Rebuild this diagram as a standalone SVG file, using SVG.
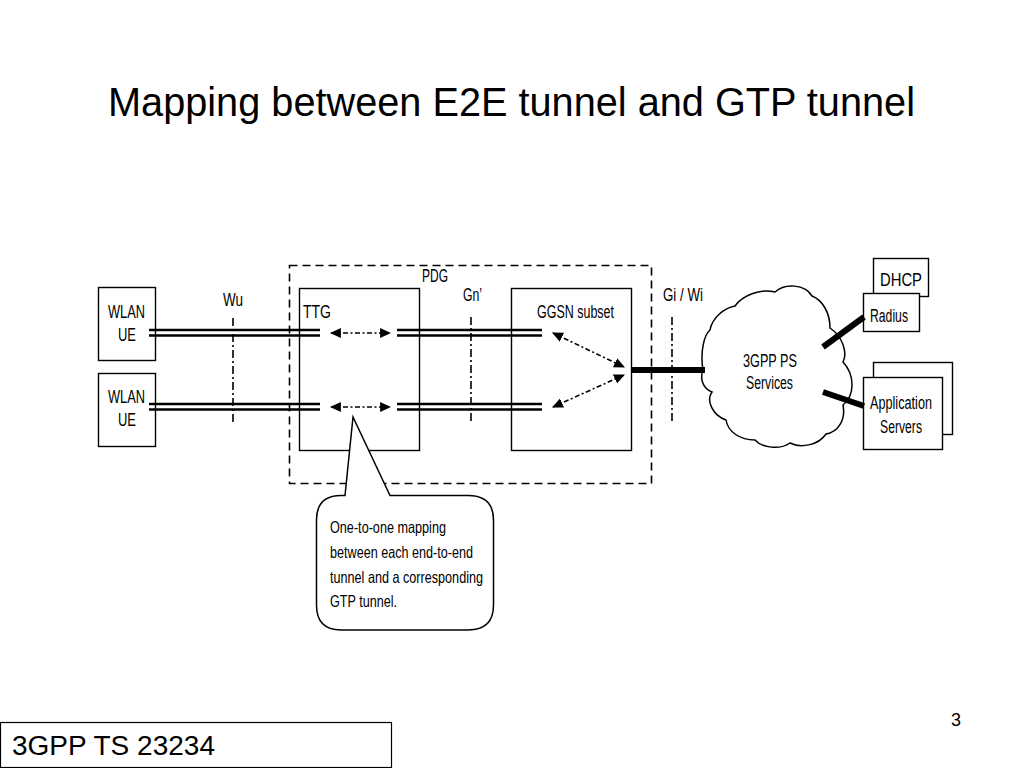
<svg xmlns="http://www.w3.org/2000/svg" width="1024" height="768" viewBox="0 0 1024 768">
<defs>
<style>
.t{font-family:"Liberation Sans",Arial,sans-serif;fill:#000}
.s{font-size:17.5px}
.c{font-size:16.5px}
.box{fill:#fff;stroke:#000;stroke-width:1.4}
.dl{stroke:#000;stroke-width:2.6;fill:none}
.ref{stroke:#000;stroke-width:1.6;stroke-dasharray:8 3 2 3;fill:none}
.arr{stroke:#000;stroke-width:1.6;stroke-dasharray:5 2.5 2 2.5;fill:none;marker-start:url(#ah);marker-end:url(#ah)}
.thick{stroke:#000;stroke-width:6;fill:none}
</style>
<marker id="ah" viewBox="0 0 10 10" refX="9" refY="5" markerWidth="11" markerHeight="11" markerUnits="userSpaceOnUse" orient="auto-start-reverse">
<path d="M0,0.5 L10,5 L0,9.5 Z" fill="#000"/>
</marker>
</defs>
<rect width="1024" height="768" fill="#fff"/>

<text class="t" x="108" y="116" font-size="40" textLength="807" lengthAdjust="spacingAndGlyphs">Mapping between E2E tunnel and GTP tunnel</text>

<g id="pdg">
<rect x="289.5" y="265.5" width="362" height="218" fill="none" stroke="#000" stroke-width="1.6" stroke-dasharray="8 5"/>
<text class="t s" x="422" y="282" textLength="26" lengthAdjust="spacingAndGlyphs">PDG</text>
</g>

<g id="wlan-ue-1">
<rect class="box" x="98.5" y="287.5" width="57" height="73"/>
<text class="t s" x="108" y="318" textLength="37" lengthAdjust="spacingAndGlyphs">WLAN</text>
<text class="t s" x="118" y="341" textLength="18" lengthAdjust="spacingAndGlyphs">UE</text>
</g>
<g id="wlan-ue-2">
<rect class="box" x="98.5" y="373.5" width="57" height="73"/>
<text class="t s" x="108" y="403" textLength="37" lengthAdjust="spacingAndGlyphs">WLAN</text>
<text class="t s" x="118" y="426" textLength="18" lengthAdjust="spacingAndGlyphs">UE</text>
</g>

<g id="ttg">
<rect class="box" x="299.5" y="288.5" width="120" height="162"/>
<text class="t s" x="303" y="318" textLength="28" lengthAdjust="spacingAndGlyphs">TTG</text>
</g>

<g id="ggsn">
<rect class="box" x="511.5" y="288.5" width="120" height="162"/>
<text class="t s" x="537" y="318" textLength="77" lengthAdjust="spacingAndGlyphs">GGSN subset</text>
</g>

<g id="cloud">
<path d="M703,370 C700,352 704,335 710,330 C712,318 724,308 735,306 C742,296 760,288 775,292 C785,283 805,284 812,296 C822,300 830,312 830,328 C842,336 848,352 843,362 C855,375 855,395 843,405 C846,420 838,432 826,434 C818,446 800,448 790,443 C780,450 762,448 755,440 C740,440 728,432 726,420 C712,415 706,400 712,392 C702,388 700,378 703,370 Z" fill="#fff" stroke="#000" stroke-width="1.5"/>
<text class="t s" x="743" y="367" textLength="54" lengthAdjust="spacingAndGlyphs">3GPP PS</text>
<text class="t s" x="746" y="389" textLength="47" lengthAdjust="spacingAndGlyphs">Services</text>
</g>

<g id="dhcp">
<rect class="box" x="873.5" y="258.5" width="55" height="38"/>
<text class="t s" x="880" y="286" textLength="42" lengthAdjust="spacingAndGlyphs">DHCP</text>
</g>
<g id="radius">
<rect class="box" x="863.5" y="293.5" width="56" height="38"/>
<text class="t s" x="870" y="322" textLength="38" lengthAdjust="spacingAndGlyphs">Radius</text>
</g>
<g id="app-servers">
<rect class="box" x="873.5" y="362.5" width="79" height="72"/>
<rect class="box" x="863.5" y="377.5" width="79" height="72"/>
<text class="t s" x="870" y="409" textLength="62" lengthAdjust="spacingAndGlyphs">Application</text>
<text class="t s" x="880" y="433" textLength="42" lengthAdjust="spacingAndGlyphs">Servers</text>
</g>

<g id="connectors">
<line class="ref" x1="233" y1="318" x2="233" y2="422"/>
<line class="ref" x1="471" y1="317" x2="471" y2="422"/>
<line class="ref" x1="672" y1="317" x2="672" y2="422"/>

<line class="dl" x1="149" y1="330" x2="320" y2="330"/>
<line class="dl" x1="149" y1="335.5" x2="320" y2="335.5"/>
<line class="dl" x1="149" y1="404" x2="320" y2="404"/>
<line class="dl" x1="149" y1="409.5" x2="320" y2="409.5"/>
<line class="dl" x1="397" y1="330" x2="542" y2="330"/>
<line class="dl" x1="397" y1="335.5" x2="542" y2="335.5"/>
<line class="dl" x1="397" y1="404" x2="542" y2="404"/>
<line class="dl" x1="397" y1="409.5" x2="542" y2="409.5"/>

<line class="arr" x1="331" y1="333" x2="390" y2="333"/>
<line class="arr" x1="331" y1="407" x2="390" y2="407"/>
<line class="arr" x1="553" y1="333" x2="624" y2="367"/>
<line class="arr" x1="553" y1="407" x2="624" y2="375"/>

<line class="thick" x1="631" y1="370" x2="705" y2="370"/>
<line class="thick" x1="823" y1="347" x2="864" y2="317"/>
<line class="thick" x1="823" y1="392" x2="864" y2="406"/>

<text class="t s" x="223" y="306" textLength="20" lengthAdjust="spacingAndGlyphs">Wu</text>
<text class="t s" x="463" y="301" textLength="19" lengthAdjust="spacingAndGlyphs">Gn’</text>
<text class="t s" x="663" y="301" textLength="40" lengthAdjust="spacingAndGlyphs">Gi / Wi</text>
</g>

<g id="callout">
<path d="M341,495.5 L345,495.5 L353,417 L390,495.5 L468,495.5 Q493.5,495.5 493.5,520 L493.5,605 Q493.5,630 468,630 L341,630 Q316.5,630 316.5,605 L316.5,520 Q316.5,495.5 341,495.5 Z" fill="#fff" stroke="#000" stroke-width="1.5"/>
<text class="t c" x="330" y="533" textLength="116" lengthAdjust="spacingAndGlyphs">One-to-one mapping</text>
<text class="t c" x="330" y="558" textLength="143" lengthAdjust="spacingAndGlyphs">between each end-to-end</text>
<text class="t c" x="330" y="583" textLength="153" lengthAdjust="spacingAndGlyphs">tunnel and a corresponding</text>
<text class="t c" x="330" y="607" textLength="67" lengthAdjust="spacingAndGlyphs">GTP tunnel.</text>
</g>

<text class="t" x="951" y="726" font-size="18">3</text>

<g id="footer">
<rect x="0.5" y="722.5" width="391" height="45" fill="#fff" stroke="#000" stroke-width="1.2"/>
<text class="t" x="12" y="755" font-size="27" textLength="203" lengthAdjust="spacingAndGlyphs">3GPP TS 23234</text>
</g>
</svg>
